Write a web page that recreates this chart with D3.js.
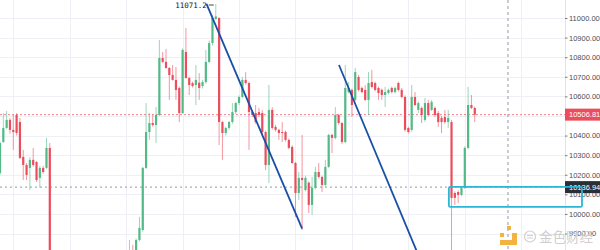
<!DOCTYPE html>
<html>
<head>
<meta charset="utf-8">
<script src="https://cdn.jsdelivr.net/npm/d3@7/dist/d3.min.js"></script>
<style>
  html, body { margin: 0; padding: 0; background: #fff; overflow: hidden; }
  svg { display: block; }
</style>
</head>
<body>
<svg id="chart" width="600" height="250"></svg>
<script>
// candle values, one entry per bar (index = bar number)
const opens = [
  10209, 10367, 10439, 10480, 10429, 10505, 10469, 10291, 10250, 10235,
  10276, 10265, 10184, 10235, 10235, 10337, 9700, 9640, 9660, 9630,
  9580, 9620, 9650, 9600, 9570, 9610, 9640, 9680, 9660, 9630,
  9670, 9700, 9690, 9720, 9740, 9710, 9730, 9760, 9740, 9760,
  9810, 9800, 9867, 9918, 10235, 10418, 10464, 10454, 10505, 10796,
  10776, 10745, 10709, 10684, 10643, 10515, 10827, 10694, 10668, 10658,
  10670, 10653, 10673, 10776, 10872, 10995, 11000, 10469, 10413, 10439,
  10469, 10520, 10566, 10597, 10684, 10668, 10520, 10515, 10520, 10515,
  10418, 10250, 10531, 10444, 10429, 10418, 10418, 10378, 10342, 10260,
  10107, 10184, 10122, 10160, 10046, 10133, 10214, 10189, 10148, 10240,
  10403, 10388, 10505, 10464, 10367, 10622, 10633, 10582, 10699, 10643,
  10633, 10582, 10673, 10668, 10643, 10633, 10607, 10617, 10643, 10622,
  10668, 10633, 10597, 10439, 10429, 10597, 10531, 10541, 10480, 10566,
  10531, 10541, 10515, 10490, 10495, 10469, 10469, 10107, 10112, 10097,
  10133, 10337, 10556, 10541
];
const highs = [
  10370, 10515, 10525, 10490, 10505, 10515, 10490, 10327, 10260, 10290,
  10337, 10270, 10245, 10245, 10388, 10362, 9740, 9690, 9700, 9650,
  9640, 9680, 9670, 9630, 9620, 9660, 9700, 9720, 9690, 9680,
  9720, 9740, 9730, 9760, 9780, 9750, 9770, 9790, 9780, 9867,
  9842, 9875, 9985, 10240, 10566, 10515, 10505, 10546, 10888, 10827,
  10842, 10750, 10760, 10750, 10650, 10845, 10949, 10700, 10675, 10760,
  10719, 10685, 10837, 10885, 11015, 11071.2, 11005, 10475, 10445, 10475,
  10566, 10572, 10605, 10699, 10724, 10675, 10530, 10556, 10541, 10530,
  10425, 10658, 10545, 10455, 10435, 10469, 10425, 10385, 10350, 10265,
  10214, 10403, 10195, 10165, 10189, 10240, 10260, 10195, 10276, 10410,
  10410, 10546, 10512, 10470, 10760, 10673, 10640, 10745, 10710, 10650,
  10658, 10724, 10735, 10675, 10650, 10640, 10648, 10640, 10650, 10650,
  10675, 10643, 10605, 10445, 10658, 10622, 10575, 10548, 10592, 10582,
  10582, 10548, 10525, 10500, 10531, 10531, 10480, 10115, 10120, 10140,
  10345, 10648, 10607, 10548
];
const lows = [
  10200, 10362, 10434, 10410, 10327, 10400, 10280, 10173, 10173, 10122,
  10240, 10163, 10133, 10205, 10230, 9650, 9610, 9600, 9620, 9560,
  9550, 9600, 9590, 9540, 9550, 9590, 9620, 9640, 9610, 9600,
  9650, 9660, 9650, 9690, 9700, 9680, 9710, 9720, 9710, 9740,
  9770, 9790, 9860, 9910, 10230, 10378, 10445, 10362, 10500, 10770,
  10740, 10582, 10680, 10582, 10469, 10510, 10690, 10607, 10645, 10556,
  10582, 10640, 10665, 10770, 10860, 10990, 10352, 10276, 10400, 10430,
  10460, 10510, 10556, 10590, 10660, 10327, 10495, 10460, 10495, 10400,
  10224, 10158, 10430, 10420, 10378, 10367, 10370, 10330, 10255, 9985,
  10071, 9918, 10115, 10005, 9995, 10125, 10180, 10112, 10140, 10235,
  10311, 10380, 10455, 10357, 10360, 10615, 10495, 10575, 10625, 10615,
  10575, 10505, 10640, 10625, 10582, 10582, 10546, 10610, 10615, 10615,
  10625, 10590, 10420, 10410, 10420, 10550, 10515, 10464, 10470, 10498,
  10525, 10495, 10444, 10413, 10460, 10439, 9790, 10046, 10056, 10090,
  10128, 10330, 10535, 10469
];
const closes = [
  10362, 10439, 10480, 10429, 10418, 10413, 10286, 10250, 10199, 10276,
  10250, 10173, 10235, 10214, 10337, 9700, 9640, 9660, 9630, 9580,
  9620, 9650, 9600, 9570, 9610, 9640, 9680, 9660, 9630, 9670,
  9700, 9690, 9720, 9740, 9710, 9730, 9760, 9740, 9760, 9810,
  9800, 9867, 9929, 10235, 10418, 10464, 10454, 10505, 10796, 10776,
  10745, 10709, 10684, 10633, 10515, 10837, 10694, 10658, 10653, 10684,
  10643, 10673, 10776, 10872, 11000, 11008, 10469, 10413, 10439, 10469,
  10520, 10566, 10597, 10684, 10668, 10520, 10505, 10469, 10505, 10418,
  10250, 10531, 10439, 10429, 10413, 10413, 10378, 10337, 10260, 10107,
  10184, 10173, 10184, 10046, 10133, 10214, 10189, 10148, 10240, 10403,
  10388, 10505, 10464, 10367, 10643, 10643, 10556, 10724, 10633, 10622,
  10582, 10668, 10648, 10633, 10617, 10607, 10622, 10633, 10622, 10643,
  10633, 10597, 10429, 10418, 10597, 10556, 10566, 10505, 10566, 10505,
  10572, 10505, 10469, 10469, 10469, 10490, 10082, 10082, 10097, 10133,
  10337, 10556, 10541, 10506.81
];

const priceTicks = [9900, 10000, 10100, 10200, 10300, 10400, 10500, 10600, 10700, 10800, 10900, 11000];
const timeGrid = [4, 21, 38, 55, 72, 89, 106, 123, 140, 157];

const lastPrice = 10506.81;
const crossPrice = 10136.94;
const crossBar = 153;
const highMark = { bar: 65, price: 11071.2, label: '11071.2' };

// drawings: two parallel trend lines and a box
const trendLines = [
  [[62.2, 11072], [91, 9925]],
  [[102.1, 10760], [127, 9750]]
];
const box = { x0: 135.2, x1: 175.3, top: 10138, bottom: 10036 };

const upColor = '#53b987';
const downColor = '#eb4d5c';

const svg = d3.select('#chart');
const plotW = 565, H = 250;

const x = d3.scaleLinear().domain([0, 170]).range([0, 564.4]);
const y = d3.scaleLinear().domain([9816, 11000]).range([250, 18]);

svg.append('defs').append('clipPath').attr('id', 'plot')
  .append('rect').attr('x', 0).attr('y', 0).attr('width', plotW).attr('height', H);

// grid
const grid = svg.append('g').attr('clip-path', 'url(#plot)');
grid.selectAll('.hg').data(priceTicks).enter().append('line')
  .attr('x1', 0).attr('x2', plotW)
  .attr('y1', d => Math.round(y(d)) + 0.5).attr('y2', d => Math.round(y(d)) + 0.5)
  .attr('stroke', '#eef0f5').attr('stroke-width', 1);
grid.selectAll('.vg').data(timeGrid).enter().append('line')
  .attr('x1', d => Math.round(x(d)) + 0.5).attr('x2', d => Math.round(x(d)) + 0.5)
  .attr('y1', 0).attr('y2', H)
  .attr('stroke', '#eef0f5').attr('stroke-width', 1);

// last price & crosshair horizontals
grid.append('line')
  .attr('x1', 0).attr('x2', plotW)
  .attr('y1', y(lastPrice)).attr('y2', y(lastPrice))
  .attr('stroke', downColor).attr('stroke-opacity', 0.7)
  .attr('stroke-width', 1).attr('stroke-dasharray', '2,2');
grid.append('line')
  .attr('x1', 0).attr('x2', plotW)
  .attr('y1', y(crossPrice)).attr('y2', y(crossPrice))
  .attr('stroke', '#9598a1').attr('stroke-width', 1).attr('stroke-dasharray', '2,3');
grid.append('line')
  .attr('x1', x(crossBar)).attr('x2', x(crossBar))
  .attr('y1', 0).attr('y2', H)
  .attr('stroke', '#9598a1').attr('stroke-width', 1).attr('stroke-dasharray', '3,3');

// candles
const bars = d3.range(opens.length).map(i => ({
  i, o: opens[i], h: highs[i], l: lows[i], c: closes[i]
}));
const candles = svg.append('g').attr('clip-path', 'url(#plot)');
const bodyW = 2.2;

candles.selectAll('.wick').data(bars).enter().append('line')
  .attr('x1', d => x(d.i)).attr('x2', d => x(d.i))
  .attr('y1', d => y(d.h)).attr('y2', d => y(d.l))
  .attr('stroke', d => d.c >= d.o ? upColor : downColor)
  .attr('stroke-opacity', 0.65)
  .attr('stroke-width', 0.9);

candles.selectAll('.body').data(bars).enter().append('rect')
  .attr('x', d => x(d.i) - bodyW / 2)
  .attr('width', bodyW)
  .attr('y', d => y(Math.max(d.o, d.c)))
  .attr('height', d => Math.max(1, Math.abs(y(d.o) - y(d.c))))
  .attr('fill', d => d.c >= d.o ? upColor : downColor);

// trend lines
candles.selectAll('.trend').data(trendLines).enter().append('line')
  .attr('x1', d => x(d[0][0])).attr('y1', d => y(d[0][1]))
  .attr('x2', d => x(d[1][0])).attr('y2', d => y(d[1][1]))
  .attr('stroke', '#1a4fa6').attr('stroke-width', 1.8);

// high marker
svg.append('text')
  .attr('x', x(highMark.bar) - 9).attr('y', 7.5)
  .attr('text-anchor', 'end')
  .attr('font-family', '"DejaVu Sans Mono", monospace')
  .attr('font-size', 7.5)
  .attr('fill', '#131722')
  .text(highMark.label);
svg.append('line')
  .attr('x1', x(highMark.bar) - 7).attr('x2', x(highMark.bar) - 2)
  .attr('y1', 5).attr('y2', 5)
  .attr('stroke', '#131722').attr('stroke-width', 0.8);

// price axis
const axisG = svg.append('g').attr('transform', `translate(${plotW},0)`);
axisG.append('line').attr('x1', 0.5).attr('x2', 0.5).attr('y1', 0).attr('y2', H)
  .attr('stroke', '#e0e3eb');
axisG.call(d3.axisRight(y).tickValues(priceTicks).tickFormat(d3.format('.2f')).tickSize(2.5).tickPadding(1.5))
  .call(g => g.select('.domain').remove())
  .call(g => g.selectAll('.tick line').attr('stroke', '#787b86'))
  .call(g => g.selectAll('.tick text')
    .attr('fill', '#4a4d57')
    .attr('font-family', '"Liberation Sans", Arial, sans-serif')
    .attr('font-size', 7.5));

// price labels on the axis
function priceTag(price, bg) {
  const g = svg.append('g').attr('transform', `translate(${plotW},${y(price)})`);
  g.append('rect').attr('x', 0).attr('y', -6).attr('width', 36).attr('height', 12).attr('fill', bg);
  g.append('text').attr('x', 4).attr('y', 2.8)
    .attr('fill', '#fff')
    .attr('font-family', '"Liberation Sans", Arial, sans-serif')
    .attr('font-size', 7.5)
    .text(d3.format('.2f')(price));
}
priceTag(lastPrice, downColor);
priceTag(crossPrice, '#2a2e39');

// box drawing
svg.append('rect')
  .attr('x', x(box.x0)).attr('y', y(box.top))
  .attr('width', x(box.x1) - x(box.x0))
  .attr('height', y(box.bottom) - y(box.top))
  .attr('rx', 1.5)
  .attr('fill', 'none')
  .attr('stroke', '#2cb5d6').attr('stroke-width', 1.8);

// watermark
const wm = svg.append('g').attr('transform', 'translate(499,226)');
wm.append('rect').attr('x', 8).attr('y', 0).attr('width', 4).attr('height', 4).attr('fill', '#f3b340');
wm.append('rect').attr('x', 1).attr('y', 7).attr('width', 4).attr('height', 4).attr('fill', '#f3b340');
wm.append('rect').attr('x', 13).attr('y', 7).attr('width', 5).attr('height', 12).attr('fill', '#f3b340');
wm.append('rect').attr('x', 1).attr('y', 14).attr('width', 17).attr('height', 5).attr('fill', '#f3b340');
wm.append('circle').attr('cx', 31).attr('cy', 10.5).attr('r', 5.5)
  .attr('fill', 'none').attr('stroke', '#cfcfcf').attr('stroke-width', 1.2);
wm.append('line').attr('x1', 28).attr('x2', 34).attr('y1', 9.5).attr('y2', 9.5).attr('stroke', '#cfcfcf');
wm.append('line').attr('x1', 28).attr('x2', 34).attr('y1', 12).attr('y2', 12).attr('stroke', '#cfcfcf');
wm.append('text').attr('x', 40).attr('y', 16)
  .attr('font-family', '"Noto Sans CJK SC", sans-serif')
  .attr('font-size', 13.5)
  .attr('fill', '#cfcfcf')
  .text('金色财经');
</script>
</body>
</html>
